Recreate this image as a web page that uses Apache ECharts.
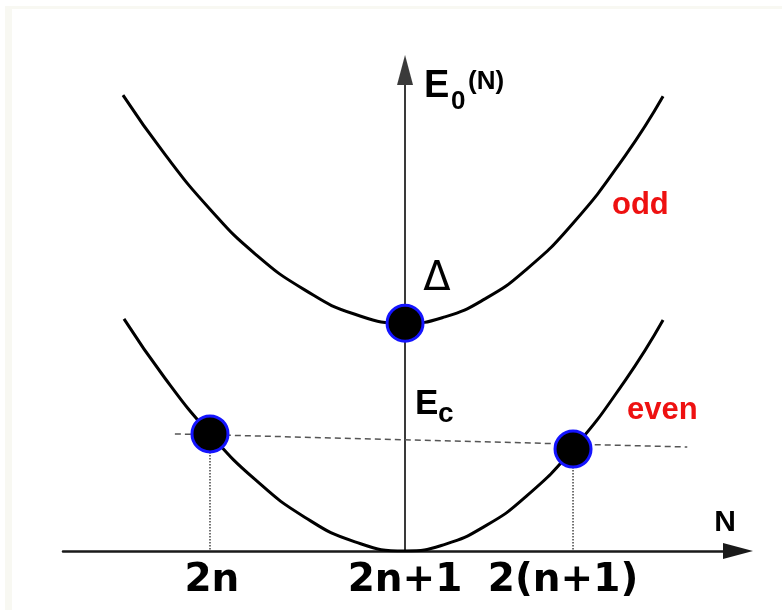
<!DOCTYPE html>
<html>
<head>
<meta charset="utf-8">
<script src="https://cdn.jsdelivr.net/npm/echarts@6/dist/echarts.min.js"></script>
<style>
  html, body { margin: 0; padding: 0; background: #ffffff; }
  #chart { width: 782px; height: 610px; }
</style>
</head>
<body>
<div id="chart"></div>
<script>
// Particle number N (centred on 2n+1) and ground-state energy E0(N)
const xTickValues = [-1.15, 0, 1];
const xTickLabels = ['2n', '2n+1', '2(n+1)'];

// even-parity parabola (touches zero at N = 2n+1)
const evenCurve = [
  [-1.673, 1.009], [-1.429, 0.751], [-1.161, 0.509], [-0.893, 0.311], [-0.595, 0.146],
  [-0.298, 0.040], [0, 0], [0.238, 0.029], [0.476, 0.108], [0.714, 0.233],
  [1, 0.443], [1.31, 0.741], [1.536, 1.004]
];

// odd-parity parabola, lifted by the gap
const oddCurve = [
  [-1.679, 1.982], [-1.429, 1.724], [-1.161, 1.486], [-0.893, 1.292], [-0.595, 1.134],
  [-0.298, 1.029], [0, 0.99], [0.238, 1.018], [0.476, 1.096], [0.714, 1.219],
  [1, 1.425], [1.31, 1.718], [1.536, 1.977]
];

// even states at N = 2n and N = 2(n+1)
const evenDots = [[-1.161, 0.509], [1, 0.443]];
// odd state at N = 2n+1
const oddDots = [[0, 0.99]];
// degeneracy level through the two even states
const levelLine = [[-1.37, 0.509], [1.68, 0.452]];

const chart = echarts.init(document.getElementById('chart'), null, { renderer: 'canvas' });

function tickLabel(v) {
  let best = 0;
  for (let i = 1; i < xTickValues.length; i++) {
    if (Math.abs(xTickValues[i] - v) < Math.abs(xTickValues[best] - v)) best = i;
  }
  return best === 2 ? '{s|' + xTickLabels[best] + '}' : xTickLabels[best];
}

const dropSeries = evenDots.map(function (p) {
  return {
    type: 'line',
    data: [[p[0], p[1]], [p[0], 0]],
    showSymbol: false,
    silent: true,
    z: 1,
    lineStyle: { color: '#444', width: 1.5, type: 'dotted' }
  };
});

const curveStyle = { color: '#000', width: 3 };

chart.setOption({
  animation: false,
  backgroundColor: '#ffffff',
  grid: { left: 63, right: 44, top: 70, bottom: 59 },
  xAxis: {
    type: 'value',
    min: -2.036,
    max: 1.982,
    axisLine: {
      onZero: true,
      symbol: ['none', 'triangle'],
      symbolSize: [16, 30],
      lineStyle: { color: '#1a1a1a', width: 2.5 }
    },
    axisTick: { show: false },
    splitLine: { show: false },
    axisLabel: {
      customValues: xTickValues,
      formatter: tickLabel,
      margin: 10,
      color: '#000',
      fontFamily: 'DejaVu Sans',
      fontWeight: 'bold',
      fontSize: 39,
      rich: {
        s: { color: '#000', fontFamily: 'DejaVu Sans', fontWeight: 'bold', fontSize: 39, padding: [0, 20, 0, 0] }
      }
    },
    name: 'N',
    nameLocation: 'end',
    nameGap: -13,
    nameTextStyle: {
      color: '#000',
      fontFamily: 'Liberation Sans',
      fontWeight: 'bold',
      fontSize: 30,
      align: 'center',
      verticalAlign: 'bottom',
      padding: [0, 0, 13, 0]
    }
  },
  yAxis: {
    type: 'value',
    min: 0,
    max: 2.091,
    axisLine: {
      onZero: true,
      symbol: ['none', 'triangle'],
      symbolSize: [16, 30],
      lineStyle: { color: '#3a3a3a', width: 2 }
    },
    axisTick: { show: false },
    axisLabel: { show: false },
    splitLine: { show: false }
  },
  graphic: [
    { type: 'rect', shape: { x: 5, y: 6, width: 777, height: 3 }, style: { fill: '#f8f8f2' }, silent: true },
    { type: 'rect', shape: { x: 5, y: 6, width: 7, height: 604 }, style: { fill: '#f8f8f2' }, silent: true },
    { type: 'text', x: 424, y: 87, style: { text: 'E', fill: '#000', font: 'bold 38px "Liberation Sans"', align: 'left', verticalAlign: 'middle' } },
    { type: 'text', x: 451, y: 102, style: { text: '0', fill: '#000', font: 'bold 26px "Liberation Sans"', align: 'left', verticalAlign: 'middle' } },
    { type: 'text', x: 468, y: 82, style: { text: '(N)', fill: '#000', font: 'bold 26px "Liberation Sans"', align: 'left', verticalAlign: 'middle' } },
    { type: 'text', x: 437, y: 280, style: { text: 'Δ', fill: '#000', font: '40px "DejaVu Sans"', align: 'center', verticalAlign: 'middle' } },
    { type: 'text', x: 415, y: 404, style: { text: 'E', fill: '#000', font: 'bold 35px "Liberation Sans"', align: 'left', verticalAlign: 'middle' } },
    { type: 'text', x: 438, y: 414, style: { text: 'c', fill: '#000', font: 'bold 28px "Liberation Sans"', align: 'left', verticalAlign: 'middle' } },
    { type: 'text', x: 612, y: 205, style: { text: 'odd', fill: '#ee1111', font: 'bold 31px "Liberation Sans"', align: 'left', verticalAlign: 'middle' } },
    { type: 'text', x: 627, y: 410, style: { text: 'even', fill: '#ee1111', font: 'bold 31px "Liberation Sans"', align: 'left', verticalAlign: 'middle' } }
  ],
  series: [
    {
      type: 'line',
      data: levelLine,
      showSymbol: false,
      silent: true,
      z: 1,
      lineStyle: { color: '#555', width: 1.5, type: [6, 4] }
    }
  ].concat(dropSeries, [
    {
      type: 'line',
      data: evenCurve,
      smooth: true,
      showSymbol: false,
      silent: true,
      z: 2,
      lineStyle: curveStyle
    },
    {
      type: 'line',
      data: oddCurve,
      smooth: true,
      showSymbol: false,
      silent: true,
      z: 2,
      lineStyle: curveStyle
    },
    {
      type: 'scatter',
      data: evenDots.concat(oddDots),
      symbol: 'circle',
      symbolSize: 36,
      z: 5,
      itemStyle: { color: '#000', borderColor: '#1414ff', borderWidth: 3, opacity: 1 }
    }
  ])
});
</script>
</body>
</html>
